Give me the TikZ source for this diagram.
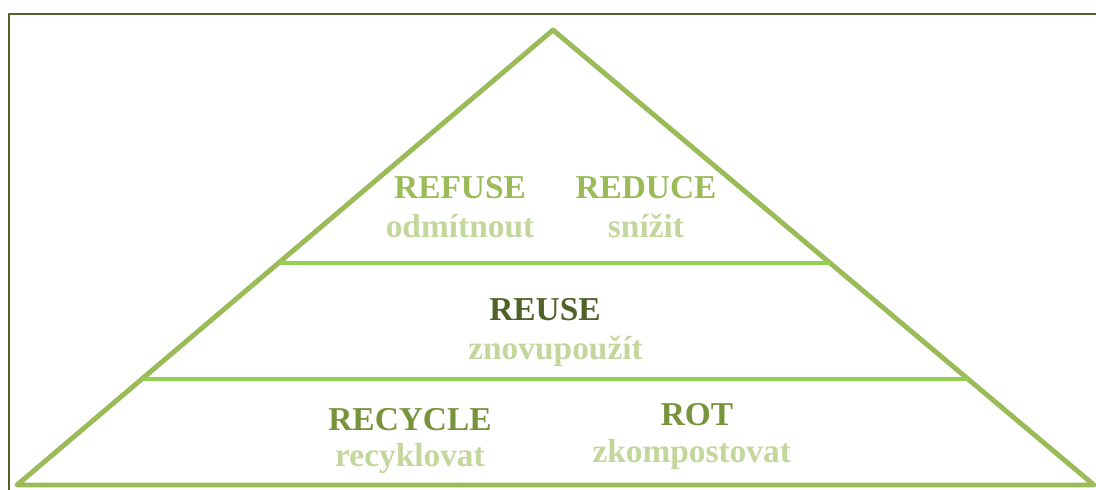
\documentclass[tikz,border=0pt]{standalone}
\usepackage{fontspec}
\setmainfont{Liberation Serif}
\usepackage{tikz}
\usetikzlibrary{positioning}
\usetikzlibrary{calc}

\definecolor{olivedark}{HTML}{4F6228}
\definecolor{olivemid}{HTML}{77933C}
\definecolor{greentri}{HTML}{9BBB59}
\definecolor{greenbar}{HTML}{92D050}
\definecolor{greenpale}{HTML}{C3D69B}

\begin{document}
\begin{tikzpicture}[x=0.02cm,y=-0.02cm,line join=round,
  title node/.style={inner sep=0pt,font=\fontsize{19}{21}\selectfont\bfseries},
  sub node/.style={inner sep=0pt,text=greenpale,font=\fontsize{19}{21}\selectfont\bfseries}]

  \useasboundingbox (0,0) rectangle (1096,490);

  % frame
  \draw[olivedark,line width=1.6pt] (9,490) -- (9,14) -- (1096,14);

  % pyramid
  \coordinate (top) at (553,30);
  \coordinate (bl) at (17,485);
  \coordinate (br) at (1094,485);
  \draw[greentri,line width=2.8pt] (top) -- (bl) -- (br) -- cycle;
  \draw[greenbar,line width=2.6pt] ($(top)!0.512!(bl)$) -- ($(top)!0.512!(br)$);
  \draw[greenbar,line width=2.6pt] ($(top)!0.767!(bl)$) -- ($(top)!0.767!(br)$);

  % top layer
  \node[title node,text=greentri] (refuse) at (460,188) {REFUSE};
  \node[sub node] (refuse2) [below=.28cm of refuse] {odmítnout};
  \node[title node,text=greentri] (reduce) at (646,188) {REDUCE};
  \node[sub node] (reduce2) [below=.28cm of reduce] {snížit};

  % middle layer
  \node[title node,text=olivedark] (reuse) at (545,310) {REUSE};
  \node[sub node] (reuse2) [below=.28cm of reuse,xshift=6pt] {znovupoužít};

  % bottom layer
  \node[title node,text=olivemid] (recycle) at (410,420) {RECYCLE};
  \node[sub node] (recycle2) [below=.22cm of recycle] {recyklovat};
  \node[title node,text=olivemid] (rot) at (697,415) {ROT};
  \node[sub node] (rot2) [below=.24cm of rot,xshift=-3pt] {zkompostovat};
\end{tikzpicture}
\end{document}
